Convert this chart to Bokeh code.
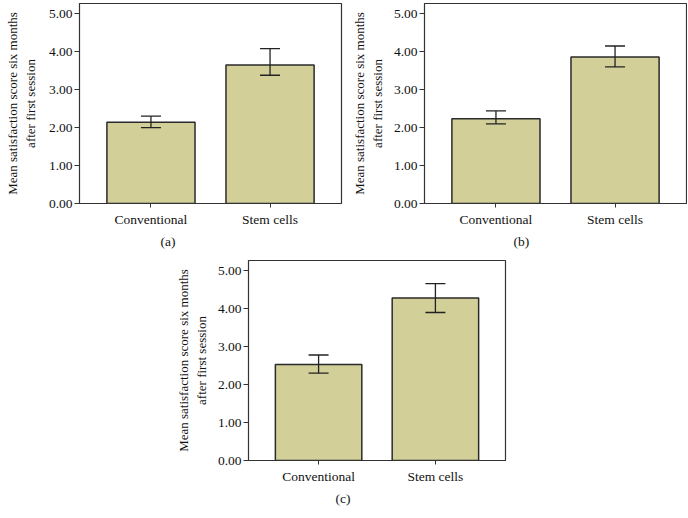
from bokeh.plotting import figure
from bokeh.models import (Range1d, FactorRange, FixedTicker, ColumnDataSource,
                          Whisker, TeeHead, Title)
from bokeh.layouts import row, column
from bokeh.embed import file_html
from bokeh.resources import INLINE

categories = ["Conventional", "Stem cells"]

mean_a = [2.14, 3.65]
lower_a = [2.00, 3.38]
upper_a = [2.30, 4.08]

mean_b = [2.23, 3.86]
lower_b = [2.10, 3.60]
upper_b = [2.44, 4.15]

mean_c = [2.53, 4.28]
lower_c = [2.30, 3.90]
upper_c = [2.78, 4.66]

y_ticks = [0, 1, 2, 3, 4, 5]
y_tick_labels = ["0.00", "1.00", "2.00", "3.00", "4.00", "5.00"]
y_label = "Mean satisfaction score six months\nafter first session"
panel_names = ["(a)", "(b)", "(c)"]

FONT = "Liberation Serif"
FILL = "#d3cf99"
EDGE = "#2a2a2a"
AX = "#333333"
TXT = "#111111"


def panel(means, lows, ups, name, w, h, bl, br, bt, bb, lab_standoff, name_offset):
    p = figure(x_range=FactorRange(*categories, range_padding=0.1,
                                   range_padding_units="absolute"),
               y_range=Range1d(0, 5.27),
               width=w, height=h,
               min_border_left=bl, min_border_right=br,
               min_border_top=bt, min_border_bottom=bb,
               output_backend="svg", toolbar_location=None,
               background_fill_color="white", border_fill_color="white")
    src = ColumnDataSource(dict(x=categories, top=means, lower=lows, upper=ups))
    p.vbar(x="x", top="top", width=0.74, source=src, fill_color=FILL,
           line_color=EDGE, line_width=1.5)
    wk = Whisker(base="x", lower="lower", upper="upper", source=src,
                 line_color="#222222", line_width=1.3, level="annotation",
                 upper_head=TeeHead(size=20, line_color="#222222", line_width=1.3),
                 lower_head=TeeHead(size=20, line_color="#222222", line_width=1.3))
    p.add_layout(wk)
    p.xgrid.visible = False
    p.ygrid.visible = False
    p.outline_line_color = AX
    p.outline_line_width = 1.2
    p.outline_line_alpha = 1.0

    p.yaxis.ticker = FixedTicker(ticks=y_ticks)
    p.yaxis.major_label_overrides = {t: l for t, l in zip(y_ticks, y_tick_labels)}
    p.yaxis.axis_label = y_label
    p.yaxis.axis_label_text_font = FONT
    p.yaxis.axis_label_text_font_style = "normal"
    p.yaxis.axis_label_text_font_size = "13px"
    p.yaxis.axis_label_text_color = TXT
    p.yaxis.axis_label_standoff = lab_standoff
    p.yaxis.minor_tick_line_color = None
    p.yaxis.major_tick_out = 5
    p.yaxis.major_tick_in = 0
    p.yaxis.major_label_standoff = 2

    p.xaxis.major_tick_out = 4
    p.xaxis.major_tick_in = 0
    p.xaxis.major_label_standoff = 4

    for ax in (p.xaxis, p.yaxis):
        ax.major_label_text_font = FONT
        ax.major_label_text_font_size = "13.5px"
        ax.major_label_text_color = TXT
        ax.axis_line_color = AX
        ax.major_tick_line_color = AX

    p.add_layout(Title(text=name, align="left", offset=name_offset,
                       text_font=FONT, text_font_size="13.5px",
                       text_font_style="normal", text_color=TXT,
                       standoff=4), "below")
    return p


pa = panel(mean_a, lower_a, upper_a, panel_names[0], 344, 250, 79, 3, 3, 45, 8, 81)
pb = panel(mean_b, lower_b, upper_b, panel_names[1], 343, 250, 80, 1, 1, 47, 6, 89)
pc = panel(mean_c, lower_c, upper_c, panel_names[2], 515, 257, 248, 10, 10, 46, 6, 87)

layout = column(row(pa, pb), pc)

open("out.html", "w").write(file_html(layout, INLINE))
